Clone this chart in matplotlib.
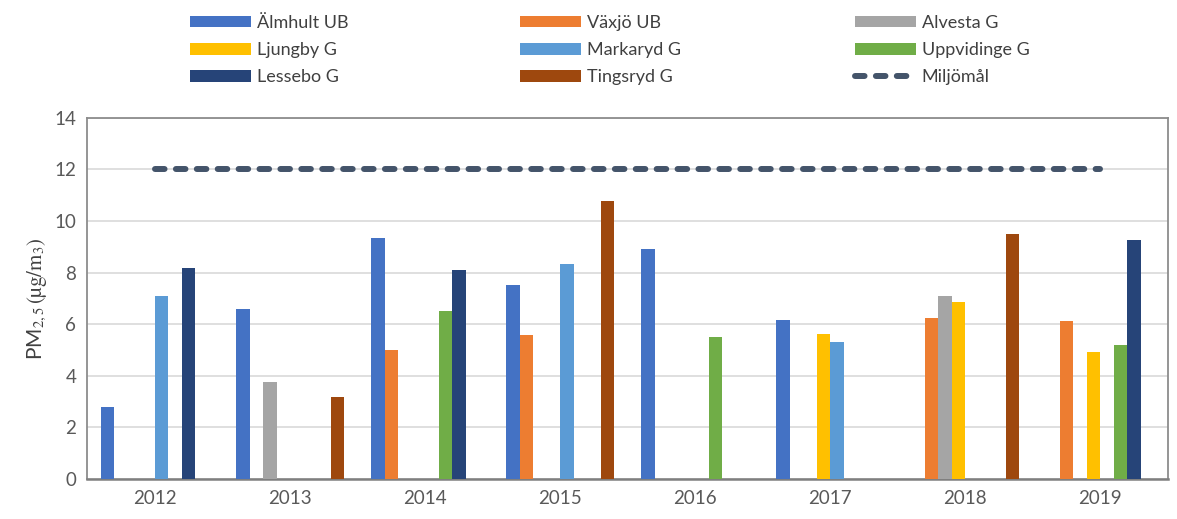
import matplotlib
matplotlib.use('Agg')
import matplotlib.pyplot as plt
import numpy as np

plt.rcParams['font.family'] = ['Lato', 'DejaVu Sans']
plt.rcParams['mathtext.fontset'] = 'stix'

years = ['2012', '2013', '2014', '2015', '2016', '2017', '2018', '2019']
stations = ['Älmhult UB', 'Växjö UB', 'Alvesta G', 'Ljungby G',
            'Markaryd G', 'Uppvidinge G', 'Lessebo G', 'Tingsryd G']
colors = ['#4472C4', '#ED7D31', '#A5A5A5', '#FFC000',
          '#5B9BD5', '#70AD47', '#264478', '#9E480E']

nan = np.nan
almhult = [2.8, 6.6, 9.35, 7.52, 8.9, 6.17, nan, nan]
vaxjo = [nan, nan, 5.02, 5.6, nan, nan, 6.26, 6.12]
alvesta = [nan, 3.77, nan, nan, nan, nan, 7.08, nan]
ljungby = [nan, nan, nan, nan, nan, 5.63, 6.88, 4.92]
markaryd = [7.08, nan, nan, 8.34, nan, 5.3, nan, nan]
uppvidinge = [nan, nan, 6.51, nan, 5.5, nan, nan, 5.2]
lessebo = [8.18, nan, 8.09, nan, nan, nan, nan, 9.28]
tingsryd = [nan, 3.19, nan, 10.77, nan, nan, 9.48, nan]
miljomal = [12] * 8

series = [almhult, vaxjo, alvesta, ljungby, markaryd, uppvidinge, lessebo, tingsryd]

fig = plt.figure(figsize=(11.77, 5.19), dpi=100)
ax = fig.add_axes([0.0743, 0.077, 0.918, 0.696])

x = np.arange(len(years))
w = 0.1
handles = []
for i, (vals, name, c) in enumerate(zip(series, stations, colors)):
    b = ax.bar(x + (i - 3.5) * w, vals, w, color=c, label=name, zorder=3)
    handles.append(b)

line, = ax.plot(x, miljomal, color='#44546A', lw=4.3, linestyle=(0, (1.6, 1.9)),
                dash_capstyle='round', label='Miljömål', zorder=4)
handles.append(line)

ax.set_xlim(-0.5, len(years) - 0.5)
ax.set_ylim(0, 14)
ax.set_yticks(range(0, 15, 2))
ax.set_xticks(x)
ax.set_xticklabels(years)
ax.yaxis.grid(True, color='#D9D9D9', lw=1.2, zorder=0)
ax.tick_params(axis='both', length=0, labelsize=13.5, colors='#595959', pad=8)
for s in ax.spines.values():
    s.set_color('#8C8C8C')
    s.set_linewidth(1.3)
ax.spines['bottom'].set_color('#7F7F7F')
ax.spines['bottom'].set_linewidth(1.8)

ax.set_ylabel(r'PM$_{2,5}\,(\mathrm{µg/m}_{3})$', fontsize=15, color='#404040')

# legend: three columns, filled row by row like the original
labels = stations + ['Miljömål']
col_x = [190, 520, 855]
for c in range(3):
    idx = [c, c + 3, c + 6]
    leg = fig.legend([handles[k] for k in idx], [labels[k] for k in idx],
                     loc='upper left', bbox_to_anchor=(col_x[c] / 1177, 1 - 15 / 519),
                     frameon=False, fontsize=13, handlelength=3.4, handleheight=0.6,
                     labelspacing=0.62, handletextpad=0.3, borderpad=0,
                     borderaxespad=0, labelcolor='#404040')

fig.savefig('out.png', dpi=100)
